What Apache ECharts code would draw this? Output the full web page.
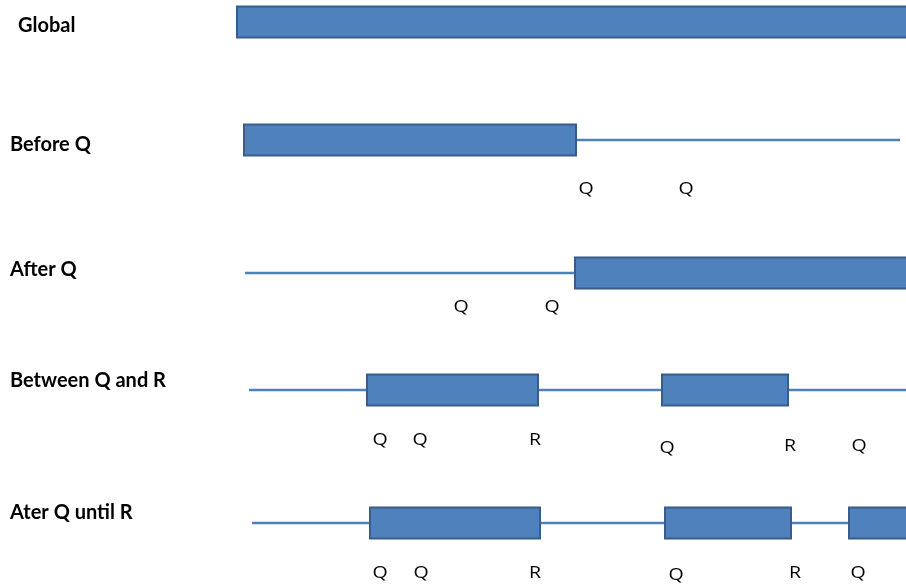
<!DOCTYPE html>
<html>
<head>
<meta charset="utf-8">
<script src="https://cdn.jsdelivr.net/npm/echarts@6/dist/echarts.min.js"></script>
<style>html,body{margin:0;padding:0;background:#fff}#c{width:906px;height:585px}</style>
</head>
<body>
<div id="c"></div>
<script>
// ---- data ----
const rowNames = ['Global', 'Before Q', 'After Q', 'Between Q and R', 'Ater Q until R'];
// scope intervals (timeline units) per row
const scopeBars = [
  [[237, 912]],
  [[244, 576]],
  [[575, 912]],
  [[367, 538], [662, 788]],
  [[370, 540], [665, 791], [849, 912]]
];
// timeline extent per row
const timelines = [
  null,
  [576, 900],
  [245, 575],
  [249, 906],
  [252, 906]
];
// events: row, time, name
const eventRows  = [1, 1, 2, 2, 3, 3, 3, 3, 3, 3, 4, 4, 4, 4, 4, 4];
const eventTimes = [586, 686, 461, 552, 380, 420, 535, 667, 790, 859, 380, 421, 535, 676, 795, 858];
const eventNames = ['Q','Q','Q','Q','Q','Q','R','Q','R','Q','Q','Q','R','Q','R','Q'];

// ---- layout (not data) ----
const rowY = [22, 140, 273, 390, 523];
const rowLabelX = [18, 10, 10, 10, 10];
const rowLabelY = [26, 145, 270, 381, 513];
const barHalf = 15.5;
const eventLabelY = [189, 189, 307, 307, 440, 440, 440, 448, 446, 446, 573, 573, 573, 575, 573, 573];

const barData = [];
scopeBars.forEach((spans, r) => spans.forEach(s => barData.push([s[0], s[1], r])));
const lineData = [];
timelines.forEach((t, r) => { if (t) lineData.push([t[0], t[1], r]); });
const evData = eventTimes.map((t, i) => [t, eventLabelY[i], eventNames[i]]);
const rowData = rowNames.map((n, i) => [rowLabelX[i], rowLabelY[i], n]);

const BLUE = '#4F81BD', EDGE = '#385D8A';
const chart = echarts.init(document.getElementById('c'), null, {renderer: 'canvas'});
chart.setOption({
  animation: false,
  backgroundColor: '#ffffff',
  grid: {left: 0, right: 0, top: 0, bottom: 0},
  xAxis: {type: 'value', min: 0, max: 906, show: false},
  yAxis: {type: 'value', min: 0, max: 585, inverse: true, show: false},
  series: [
    {
      type: 'custom', data: lineData, z: 1,
      renderItem: (p, api) => {
        const r = api.value(2);
        const a = api.coord([api.value(0), rowY[r]]);
        const b = api.coord([api.value(1), rowY[r]]);
        return {type: 'line', shape: {x1: a[0], y1: a[1], x2: b[0], y2: b[1]},
          style: {stroke: BLUE, lineWidth: 2.5}};
      }
    },
    {
      type: 'custom', data: barData, z: 2,
      renderItem: (p, api) => {
        const r = api.value(2);
        const a = api.coord([api.value(0), rowY[r] - barHalf]);
        const b = api.coord([api.value(1), rowY[r] + barHalf]);
        return {type: 'rect', shape: {x: a[0], y: a[1], width: b[0] - a[0], height: b[1] - a[1]},
          style: {fill: BLUE, stroke: EDGE, lineWidth: 2}};
      }
    },
    {
      type: 'custom', data: evData, z: 3,
      renderItem: (p, api) => {
        const c = api.coord([api.value(0), api.value(1)]);
        return {type: 'text', x: c[0], y: c[1], scaleX: 1.15,
          style: {text: evData[p.dataIndex][2], fill: '#000', font: '17px "Open Sans", sans-serif',
            align: 'center', verticalAlign: 'middle'}};
      }
    },
    {
      type: 'custom', data: rowData, z: 3,
      renderItem: (p, api) => {
        const c = api.coord([api.value(0), api.value(1)]);
        return {type: 'text', x: c[0], y: c[1],
          style: {text: rowData[p.dataIndex][2], fill: '#000', font: 'bold 20px Lato, sans-serif',
            align: 'left', verticalAlign: 'middle'}};
      }
    }
  ]
});
</script>
</body>
</html>
